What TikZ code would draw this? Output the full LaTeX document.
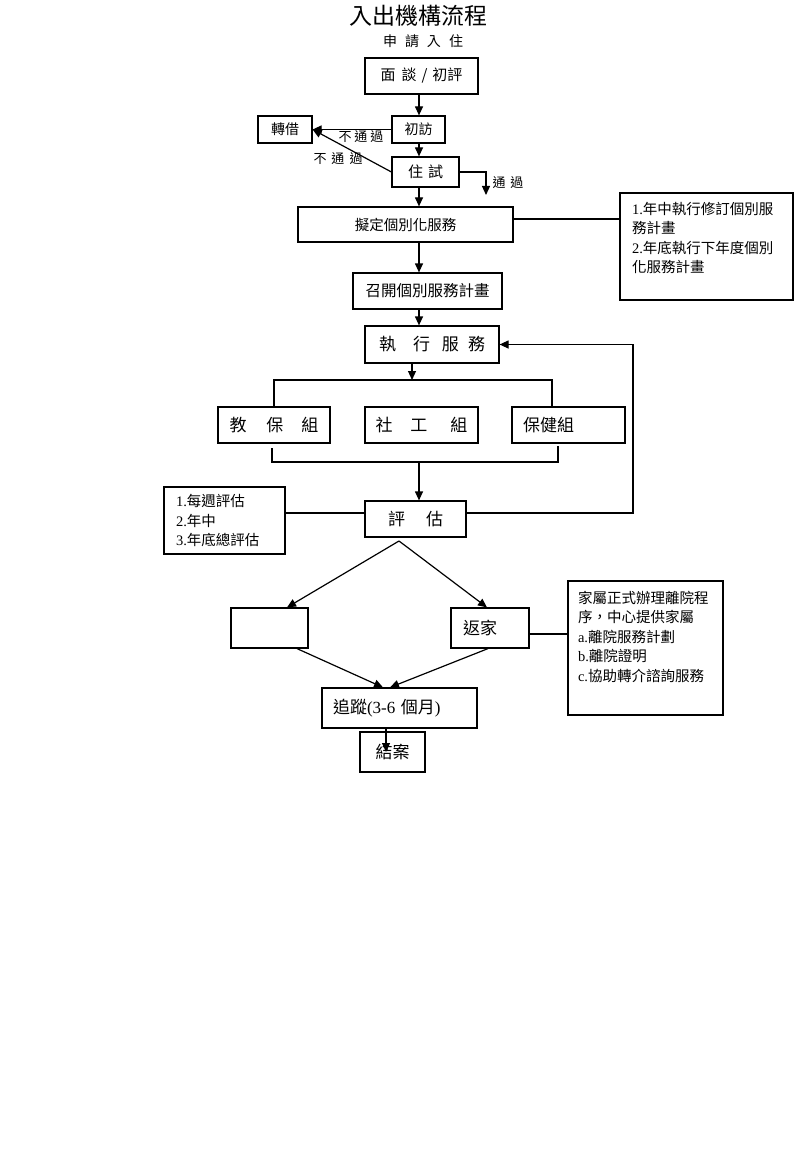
\documentclass[tikz,border=0pt]{standalone}
\usepackage{fontspec}
\setmainfont{Liberation Serif}
\newfontfamily\cjk{Noto Sans CJK TC}
\usetikzlibrary{arrows.meta}
\newcommand{\lat}[1]{{\rmfamily #1}}
\tikzset{
	>={Triangle[length=9pt,width=8pt]},
	box/.style={draw, line width=1.2pt, inner sep=0pt},
	zh/.style={font=\cjk\fontsize{#1}{19.5}\selectfont},
	notebox/.style={draw, line width=1.2pt, inner xsep=12pt, inner ysep=9pt, zh=14.5},
	link/.style={line width=1.2pt},
	flow/.style={line width=1.2pt, ->},
	tag/.style={zh=13, inner sep=1pt},
}

\begin{document}
\begin{tikzpicture}[x=1pt, y=-1pt]
	\useasboundingbox (0,0) rectangle (800,1158);
	
	% heading
	\node[zh=23] (title) at (418,16) {入出機構流程};
	\node[zh=14] (apply) at (423,41) {申\hspace{8pt}請\hspace{8pt}入\hspace{8pt}住};
	
	% intake
	\coordinate (spine) at (419,0);
	\node[box, zh=15, minimum width=113pt, minimum height=36pt] (interview) at (421.5,76) {面\hspace{6pt}談\hspace{5pt}/\hspace{5pt}初評};
	\node[box, zh=14, minimum width=53pt, minimum height=27pt] (visit) at (418.5,129.5) {初訪};
	\node[box, zh=14, minimum width=54pt, minimum height=27pt] (refer) at (285,129.5) {轉借};
	\node[box, zh=15, minimum width=67pt, minimum height=30pt] (trial) at (425.5,172) {住\hspace{5pt}試};
	\coordinate (passend) at (486,195);
	
	\draw[flow] (spine |- interview.south) -- (spine |- visit.north);
	\draw[flow] (spine |- visit.south) -- (spine |- trial.north);
	\draw[flow] (visit.west) -- (refer.east);
	\draw[flow] (trial.west) -- (refer.east);
	\draw[flow] (trial.east) -| (passend);
	\node[tag] (nopass1) at (361,137) {不\hspace{3pt}通\hspace{3pt}過};
	\node[tag] (nopass2) at (338,159) {不\hspace{5pt}通\hspace{5pt}過};
	\node[tag] (pass) at (508,183) {通\hspace{5pt}過};
	
	% planning
	\node[box, zh=14.5, minimum width=215pt, minimum height=35pt] (plan) at (405.5,224.5) {擬定個別化服務};
	\node[notebox] (revise) at (706.5,246.5) {\parbox[t][89pt][t]{149pt}{\lat{1.}年中執行修訂個別服\\務計畫\\\lat{2.}年底執行下年度個別\\化服務計畫}};
	\node[box, zh=15.5, minimum width=149pt, minimum height=36pt] (meeting) at (427.5,291) {召開個別服務計畫};
	\node[box, zh=17, minimum width=134pt, minimum height=37pt] (execute) at (432,344.5) {執\hspace{17pt}行\hspace{12pt}服\hspace{9pt}務};
	
	\draw[flow] (spine |- trial.south) -- (spine |- plan.north);
	\draw[link] ([yshift=5.5pt]plan.east) -- ([yshift=5.5pt]plan.east -| revise.west);
	\draw[flow] (spine |- plan.south) -- (spine |- meeting.north);
	\draw[flow] (spine |- meeting.south) -- (spine |- execute.north);
	
	% teams
	\node[box, zh=17, minimum width=112pt, minimum height=36pt] (teach) at (274,425) {教\hspace{20pt}保\hspace{18pt}組};
	\node[box, zh=17, minimum width=113pt, minimum height=36pt] (social) at (421.5,425) {社\hspace{18pt}工\hspace{23pt}組};
	\node[box, zh=17, minimum width=113pt, minimum height=36pt, align=left, text width=91pt, inner xsep=11pt] (health) at (568.5,425) {保健組};
	
	\coordinate (split) at (412,380);
	\coordinate (splitright) at (552,380);
	\draw[flow] (execute.south -| split) -- (split);
	\draw[link] (teach.north) |- (splitright) -- (splitright |- health.north);
	
	\coordinate (joinleft) at (272,448);
	\coordinate (joinright) at (558,446);
	\coordinate (join) at (419,462);
	\draw[link] (joinleft) |- (join) -| (joinright);
	
	% assessment
	\node[box, zh=17, minimum width=101pt, minimum height=36pt] (assess) at (415.5,519) {評\hspace{21pt}估};
	\node[box, zh=14.5, align=left, minimum width=121pt, minimum height=67pt, text width=97pt, inner xsep=12pt] (criteria) at (224.5,520.5) {\lat{1.}每週評估\\\lat{2.}年中\\\lat{3.}年底總評估};
	\coordinate (evalrow) at (0,513);
	\coordinate (loopx) at (633,0);
	
	\draw[flow] (join) -- (join |- assess.north);
	\draw[link] (criteria.east |- evalrow) -- (assess.west |- evalrow);
	\draw[flow] (assess.east |- evalrow) -| (loopx |- execute.east) -- (execute.east);
	
	% discharge
	\coordinate (fork) at (399,541);
	\node[box, minimum width=77pt, minimum height=40pt] (stay) at (269.5,628) {};
	\node[box, zh=17, align=left, minimum width=78pt, minimum height=40pt, text width=54pt, inner xsep=12pt] (home) at (490,628) {返家};
	\node[notebox, inner xsep=10pt, inner ysep=10pt] (leave) at (645.5,648) {\parbox[t][114pt][t]{135pt}{家屬正式辦理離院程\\序，中心提供家屬\\\lat{a.}離院服務計劃\\\lat{b.}離院證明\\\lat{c.}協助轉介諮詢服務}};
	\node[box, zh=17, align=left, minimum width=155pt, minimum height=40pt, text width=133pt, inner xsep=11pt] (follow) at (399.5,708) {追蹤\lat{(3-6 }個月\lat{)}};
	\node[box, zh=17, minimum width=65pt, minimum height=40pt] (close) at (392.5,752) {結案};
	
	\draw[flow] (fork) -- ([xshift=17.5pt]stay.north);
	\draw[flow] (fork) -- ([xshift=-3pt]home.north);
	\draw[link] ([yshift=-6pt]home.east) -- ([yshift=-6pt]home.east -| leave.west);
	\draw[flow] ([xshift=27.5pt]stay.south) -- ([xshift=-16.5pt]follow.north);
	\draw[flow] ([xshift=-2pt]home.south) -- ([xshift=-9.5pt]follow.north);
	\draw[flow] ([xshift=-13.5pt]follow.south) -- ([xshift=-13.5pt]follow.south |- close.center);
\end{tikzpicture}
\end{document}
